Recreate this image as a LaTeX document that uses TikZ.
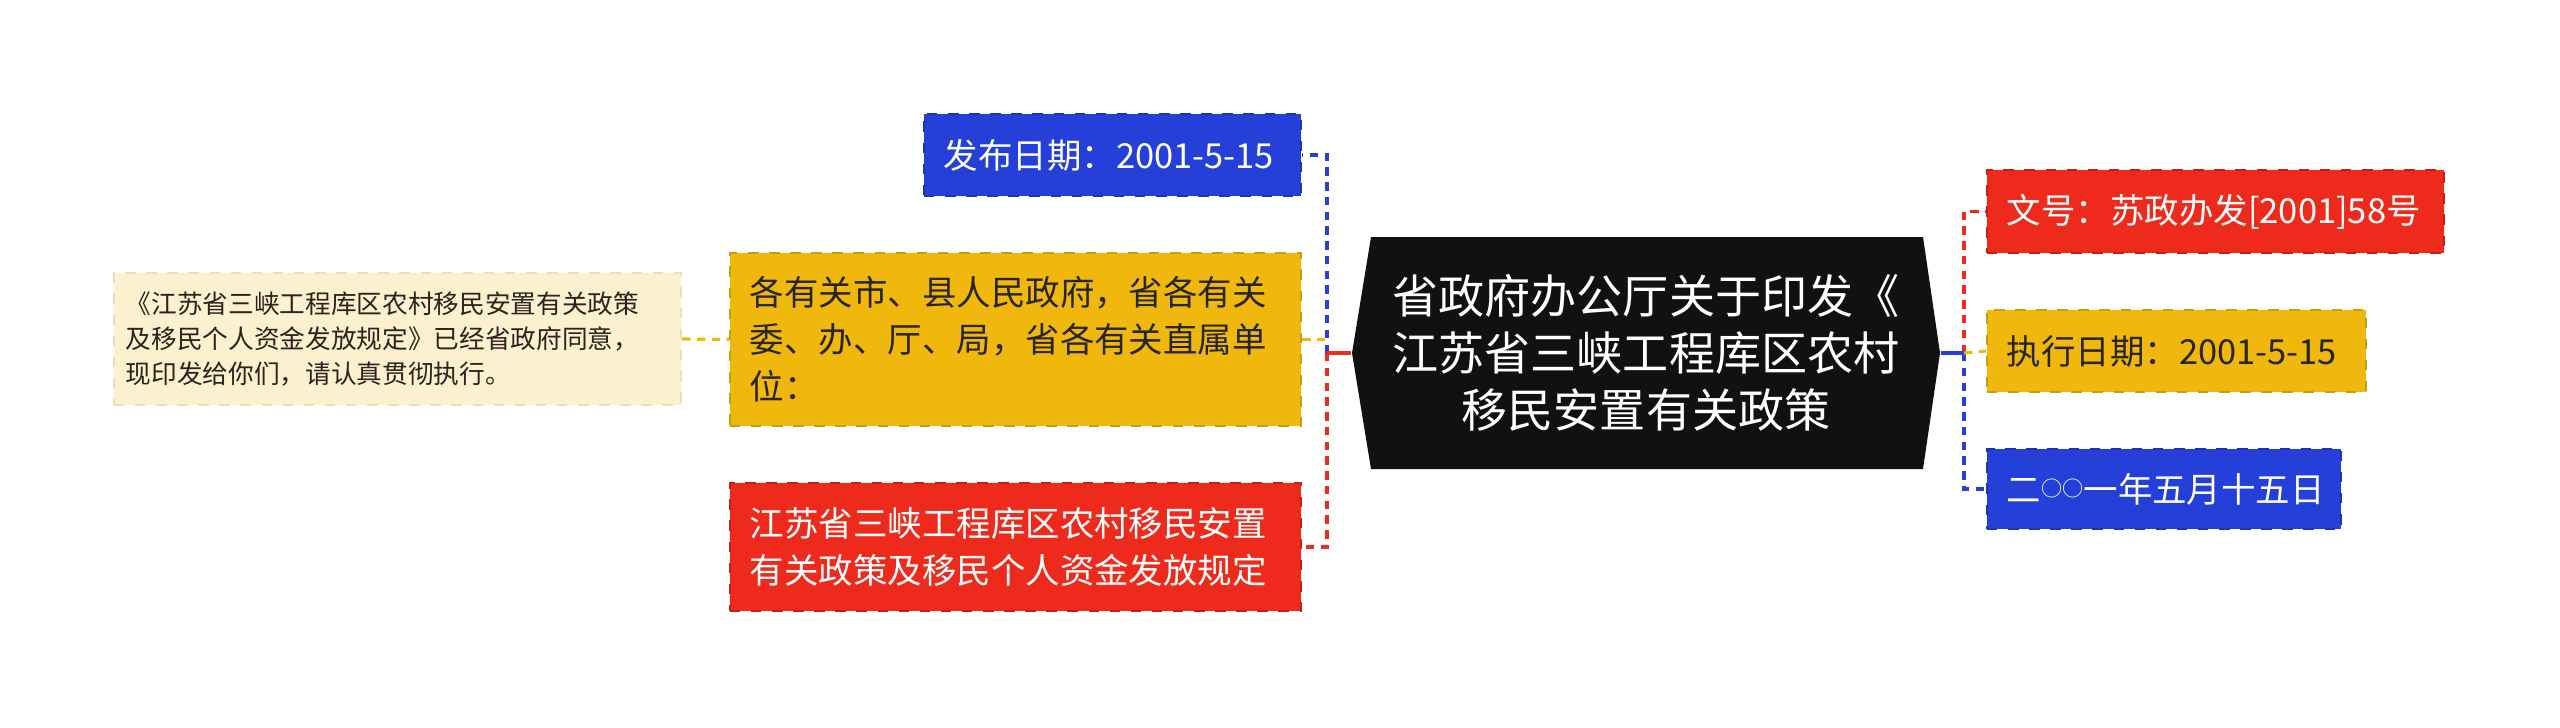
\documentclass[tikz,border=0pt]{standalone}
\usepackage{fontspec}
\setmainfont{Noto Sans CJK SC}
\definecolor{mmblue}{RGB}{37,64,216}
\definecolor{mmred}{RGB}{238,42,28}
\definecolor{mmyellow}{RGB}{240,184,12}
\definecolor{mmcream}{RGB}{253,240,207}
\definecolor{mmink}{RGB}{40,36,30}
\definecolor{mmblack}{RGB}{17,17,17}
\newcommand{\ringch}{\raisebox{1.5pt}{\fontsize{6pt}{6pt}\selectfont ○}}

\begin{document}
\begin{tikzpicture}[x=0.01cm,y=-0.01cm,
    box/.style={rectangle,dashed,line width=0.6pt,inner xsep=0.2cm,inner ysep=0pt,align=left,
        font=\fontsize{9.8pt}{13.4pt}\selectfont},
    bluebox/.style={box,fill=mmblue,draw=mmblue!80!black,text=white},
    redbox/.style={box,fill=mmred,draw=mmred!80!black,text=white},
    yellowbox/.style={box,fill=mmyellow,draw=mmyellow!85!black,text=mmink},
    notebox/.style={box,fill=mmcream,draw=mmcream!92!black,text=mmink,inner xsep=0.12cm,
        font=\fontsize{7.3pt}{10pt}\selectfont},
    link/.style={line width=0.9pt,dash pattern=on 2.4pt off 1.8pt},
    stem/.style={line width=0.9pt}]
        \useasboundingbox (0,0) rectangle (2560,727);
        % centre topic
        \fill[mmblack] (1352,353) -- (1371,237) -- (1923,237) -- (1940,353) -- (1923,469) -- (1371,469) -- cycle;
        \node[minimum width=5.88cm,minimum height=2.32cm,inner sep=0pt,align=center,text=white,
            font=\fontsize{13.1pt}{16.2pt}\selectfont] (ctr) at (1646,353)
            {省政府办公厅关于印发《\\江苏省三峡工程库区农村\\移民安置有关政策};
        % left side
        \node[bluebox,text width=3.37cm,minimum height=0.82cm] (pub) at (1112.5,155) {发布日期：2001-5-15};
        \node[yellowbox,text width=5.31cm,minimum height=1.73cm] (rcp) at (1015.5,339.5)
            {各有关市、县人民政府，省各有关\\委、办、厅、局，省各有关直属单\\位：};
        \node[redbox,text width=5.31cm,minimum height=1.28cm] (rule) at (1015.5,547)
            {江苏省三峡工程库区农村移民安置\\有关政策及移民个人资金发放规定};
        \node[notebox,text width=5.43cm,minimum height=1.32cm] (note) at (397.5,339)
            {《江苏省三峡工程库区农村移民安置有关政策\\及移民个人资金发放规定》已经省政府同意，\\现印发给你们，请认真贯彻执行。};
        % right side
        \node[redbox,text width=4.17cm,minimum height=0.83cm] (docno) at (2215.5,211.5) {文号：苏政办发[2001]58号};
        \node[yellowbox,text width=3.39cm,minimum height=0.82cm] (exe) at (2176.5,351) {执行日期：2001-5-15};
        \node[bluebox,text width=3.14cm,minimum height=0.80cm] (cndate) at (2164,489) {二\ringch\ringch 一年五月十五日};
        % connectors
        \coordinate (lbus) at (1327,353);
        \coordinate (rbus) at (1964,353);
        \draw[link,mmblue] (lbus) |- (pub.east);
        \draw[link,mmred] (lbus) |- (rule.east);
        \draw[link,mmyellow] (rcp.east) -- (rcp.east -| lbus);
        \draw[stem,mmred] (ctr.west) -- (lbus);
        \draw[link,mmyellow] (note.east) -- (rcp.west);
        \draw[link,mmred] (rbus) |- (docno.west);
        \draw[link,mmblue] (rbus) |- (cndate.west);
        \draw[link,mmyellow] (rbus) -- (exe.west);
        \draw[stem,mmblue] (ctr.east) -- (rbus);
    \end{tikzpicture}
\end{document}
